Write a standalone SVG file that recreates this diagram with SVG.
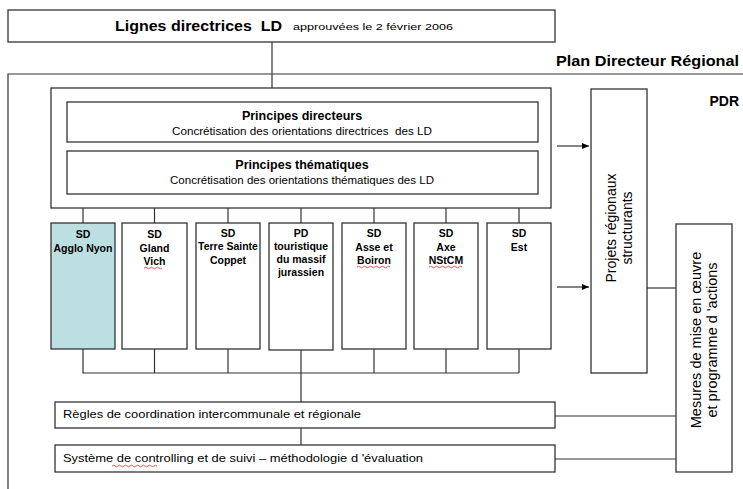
<svg xmlns="http://www.w3.org/2000/svg" width="743" height="489" viewBox="0 0 743 489">
<defs>
<style>
text{font-family:"Liberation Sans",Arial,sans-serif;fill:#000}
.box{fill:#fff;stroke:#333;stroke-width:1.3}
.teal{fill:#bcdfe2;stroke:#333;stroke-width:1.3}
.ln{fill:none;stroke:#333;stroke-width:1.2}
.sd{font-size:10.5px;font-weight:bold;text-anchor:middle}
.t{font-size:12.5px;font-weight:bold;text-anchor:middle}
.st{font-size:10px;text-anchor:middle}
.sq{fill:none;stroke:#d03030;stroke-width:0.8}
</style>
<marker id="ah" markerWidth="8" markerHeight="8" refX="7" refY="4" orient="auto" markerUnits="userSpaceOnUse">
<path d="M0,1 L7,4 L0,7 Z" fill="#000"/>
</marker>
</defs>
<rect width="743" height="489" fill="#fff"/>

<g id="frame">
<path class="ln" d="M8,489 V74 H743"/>
<text x="739" y="66" font-size="15.5" font-weight="bold" text-anchor="end" textLength="183" lengthAdjust="spacingAndGlyphs">Plan Directeur Régional</text>
<text x="739" y="106" font-size="14" font-weight="bold" text-anchor="end">PDR</text>
</g>

<g id="connectors">
<path class="ln" d="M272,42 V88"/>
<path class="ln" d="M83,208 V223 M154.5,208 V223 M228,208 V223 M301,208 V223 M374,208 V223 M446,208 V223 M519,208 V223"/>
<path class="ln" d="M83,349 V373 H519 M154.5,349 V373 M228,349 V373 M374,349 V373 M446,349 V373 M519,349 V373 M301,350 V402 M301,428 V445"/>
<path class="ln" d="M557,146 H589" marker-end="url(#ah)"/>
<path class="ln" d="M557,287 H589" marker-end="url(#ah)"/>
<path class="ln" d="M647,288 H676"/>
<path class="ln" d="M555,416 H676 M555,459 H676"/>
</g>

<g id="ld">
<rect class="box" x="8" y="10" width="547" height="32"/>
<text x="115" y="31" font-size="15.5" font-weight="bold" textLength="167" lengthAdjust="spacingAndGlyphs">Lignes directrices&#160; LD</text>
<text x="293" y="30" font-size="9" textLength="160" lengthAdjust="spacingAndGlyphs">approuvées le 2 février 2006</text>
</g>

<g id="principes">
<rect class="box" x="51" y="88" width="500" height="120"/>
</g>

<g id="principes-directeurs">
<rect class="box" x="67" y="102" width="471" height="40"/>
<text class="t" x="302" y="120">Principes directeurs</text>
<text class="st" x="302" y="135" textLength="260" lengthAdjust="spacingAndGlyphs">Concrétisation des orientations directrices&#160; des LD</text>
</g>

<g id="principes-thematiques">
<rect class="box" x="67" y="151" width="471" height="43"/>
<text class="t" x="302" y="169">Principes thématiques</text>
<text class="st" x="302" y="184" textLength="264" lengthAdjust="spacingAndGlyphs">Concrétisation des orientations thématiques des LD</text>
</g>

<g id="sd-agglo-nyon">
<rect class="teal" x="51" y="223" width="64" height="126"/>
<text class="sd" x="83" y="238">SD</text>
<text class="sd" x="83" y="252">Agglo Nyon</text>
</g>

<g id="sd-gland-vich">
<rect class="box" x="122" y="223" width="65" height="126"/>
<text class="sd" x="154.5" y="238">SD</text>
<text class="sd" x="154.5" y="252">Gland</text>
<text class="sd" x="154.5" y="265">Vich</text>
<path class="sq" d="M144,268 q1.5,-1.5 3,0 t3,0 t3,0 t3,0 t3,0 t3,0"/>
</g>

<g id="sd-terre-sainte">
<rect class="box" x="196" y="223" width="64" height="126"/>
<text class="sd" x="228" y="237">SD</text>
<text class="sd" x="228" y="250">Terre Sainte</text>
<text class="sd" x="228" y="264">Coppet</text>
</g>

<g id="pd-touristique">
<rect class="box" x="269" y="223" width="64" height="127"/>
<text class="sd" x="301" y="237">PD</text>
<text class="sd" x="301" y="250">touristique</text>
<text class="sd" x="301" y="263">du massif</text>
<text class="sd" x="301" y="276">jurassien</text>
</g>

<g id="sd-asse-boiron">
<rect class="box" x="342" y="223" width="64" height="126"/>
<text class="sd" x="374" y="237">SD</text>
<text class="sd" x="374" y="251">Asse et</text>
<text class="sd" x="374" y="264">Boiron</text>
<path class="sq" d="M357,267 q1.5,-1.5 3,0 t3,0 t3,0 t3,0 t3,0 t3,0 t3,0 t3,0 t3,0 t3,0 t3,0"/>
</g>

<g id="sd-axe-nstcm">
<rect class="box" x="414" y="223" width="64" height="126"/>
<text class="sd" x="446" y="237">SD</text>
<text class="sd" x="446" y="251">Axe</text>
<text class="sd" x="446" y="264">NStCM</text>
<path class="sq" d="M429,267 q1.5,-1.5 3,0 t3,0 t3,0 t3,0 t3,0 t3,0 t3,0 t3,0 t3,0 t3,0 t3,0"/>
</g>

<g id="sd-est">
<rect class="box" x="487" y="223" width="64" height="126"/>
<text class="sd" x="519" y="237">SD</text>
<text class="sd" x="519" y="251">Est</text>
</g>

<g id="projets">
<rect class="box" x="591" y="89" width="56" height="284"/>
<g transform="translate(619,228) rotate(-90)">
<text x="0" y="-3" font-size="14" text-anchor="middle">Projets régionaux</text>
<text x="0" y="13" font-size="14" text-anchor="middle">structurants</text>
</g>
</g>

<g id="mesures">
<rect class="box" x="676" y="224" width="56" height="248"/>
<g transform="translate(704,340) rotate(-90)">
<text x="0" y="-3" font-size="14.5" text-anchor="middle">Mesures de mise en œuvre</text>
<text x="0" y="13" font-size="14.5" text-anchor="middle">et programme d 'actions</text>
</g>
</g>

<g id="regles">
<rect class="box" x="55" y="402" width="500" height="26"/>
<text x="63" y="418" font-size="11.5" textLength="298" lengthAdjust="spacingAndGlyphs">Règles de coordination intercommunale et régionale</text>
</g>

<g id="systeme">
<rect class="box" x="55" y="445" width="500" height="27"/>
<text x="63" y="462" font-size="11.5" textLength="360" lengthAdjust="spacingAndGlyphs">Système de controlling et de suivi – méthodologie d 'évaluation</text>
<path class="sq" d="M112,466 q1.5,-1.5 3,0 t3,0 t3,0 t3,0 t3,0 t3,0 t3,0 t3,0 t3,0 t3,0 t3,0 t3,0 t3,0 t3,0 t3,0"/>
</g>
</svg>
